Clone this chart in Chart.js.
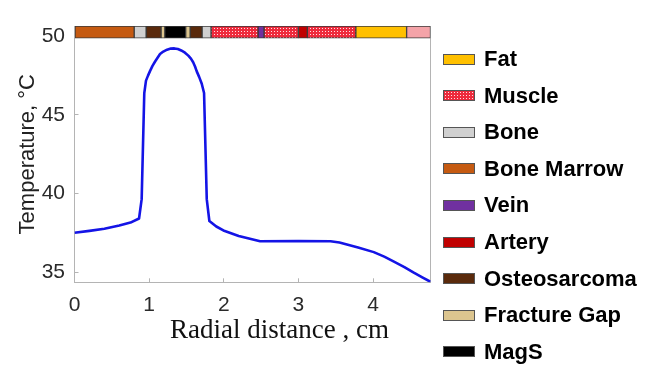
<!DOCTYPE html>
<html><head><meta charset="utf-8">
<script src="https://cdn.jsdelivr.net/npm/chart.js@4.4.1/dist/chart.umd.min.js"></script>
<style>
html,body{margin:0;padding:0;background:#fff;overflow:hidden;}
#wrap{position:relative;width:646px;height:365px;}
#c{position:absolute;left:0;top:0;}
#legend{position:absolute;left:443px;top:0;font-family:"Liberation Sans",Arial,sans-serif;font-weight:bold;font-size:22px;color:#000;}
.item{position:absolute;left:0;height:24px;display:flex;align-items:center;white-space:nowrap;}
.sw{width:30px;height:9px;border:1px solid #555;margin-right:9px;box-sizing:content-box;}
</style></head><body>
<div id="wrap"><canvas id="c" width="646" height="365"></canvas><div id="legend"></div></div>
<script>
// ---- data ----
const distance    = [0, 0.2, 0.4, 0.6, 0.75, 0.865, 0.90, 0.935, 0.958, 0.985, 1.01, 1.045, 1.08, 1.146, 1.19, 1.24, 1.29, 1.338, 1.385, 1.43, 1.48, 1.525, 1.56, 1.59, 1.615, 1.638, 1.67, 1.705, 1.736, 1.772, 1.807, 1.9, 1.995, 2.2, 2.487, 3.0, 3.43, 3.55, 3.65, 3.8, 4.01, 4.15, 4.28, 4.42, 4.54, 4.66, 4.77];
const temperature = [37.50, 37.62, 37.76, 37.96, 38.15, 38.41, 39.64, 46.39, 47.18, 47.50, 47.77, 48.12, 48.40, 48.87, 49.03, 49.15, 49.22, 49.23, 49.19, 49.10, 48.96, 48.77, 48.58, 48.35, 48.08, 47.77, 47.42, 46.98, 46.39, 39.64, 38.25, 37.90, 37.65, 37.30, 36.96, 36.97, 36.96, 36.88, 36.76, 36.57, 36.27, 35.98, 35.67, 35.32, 34.98, 34.66, 34.38];
const xTicks = [0, 1, 2, 3, 4];
const yTicks = [35, 40, 45, 50];

// tissue layers along the radial distance (cm): [start, end]
const fatSegs      = [[3.77, 4.45]];
const muscleSegs   = [[1.83, 2.46], [2.54, 3.0], [3.12, 3.77]];
const boneSegs     = [[0.80, 0.96], [1.71, 1.83]];
const marrowSegs   = [[0, 0.80]];
const veinSegs     = [[2.46, 2.54]];
const arterySegs   = [[3.0, 3.12]];
const osteoSegs    = [[0.96, 1.16], [1.55, 1.71]];
const fractureSegs = [[1.16, 1.21], [1.49, 1.55]];
const magsSegs     = [[1.21, 1.49]];
const skinSegs     = [[4.45, 4.77]];

const tissueNames = ['Fat', 'Muscle', 'Bone', 'Bone Marrow', 'Vein', 'Artery', 'Osteosarcoma', 'Fracture Gap', 'MagS'];
const tissueSegs  = [fatSegs, muscleSegs, boneSegs, marrowSegs, veinSegs, arterySegs, osteoSegs, fractureSegs, magsSegs];

// ---- styles ----
const pc = document.createElement('canvas'); pc.width = 3; pc.height = 3;
const pctx = pc.getContext('2d');
pctx.fillStyle = '#EE2A3C'; pctx.fillRect(0, 0, 3, 3);
pctx.fillStyle = '#FFE0E4'; pctx.fillRect(1, 1, 1, 1);
const musclePattern = pctx.createPattern(pc, 'repeat');
const tissueColors = ['#FFC000', musclePattern, '#D0D0D0', '#C55A11', '#7030A0', '#C00000', '#5A2A0C', '#DCC58F', '#000000'];
const swatchCss = ['#FFC000', 'url(' + pc.toDataURL() + ')', '#D0D0D0', '#C55A11', '#7030A0', '#C00000', '#5A2A0C', '#DCC58F', '#000000'];
const skinColor = '#F4A3A8';
const BAR_LEVEL = 50.27;
const AX = '#b4b4b4';

const datasets = [{
  type: 'line', label: 'Temperature',
  data: distance.map((x, i) => ({x: x, y: temperature[i]})),
  borderColor: '#1414E6', borderWidth: 2.6, pointRadius: 0,
  tension: 0, borderJoinStyle: 'round', fill: false, order: 0
}];
function barSet(label, segs, color) {
  return {type: 'bar', label: label, indexAxis: 'y', grouped: false,
    data: segs.map(s => ({x: s, y: BAR_LEVEL})),
    backgroundColor: color, borderColor: '#3a3a3a', borderWidth: 1, borderSkipped: false,
    barThickness: 12, order: 1};
}
tissueNames.forEach((n, i) => datasets.push(barSet(n, tissueSegs[i], tissueColors[i])));
datasets.push(barSet('Skin', skinSegs, skinColor));

const tickFont = {family: '"Liberation Sans", Arial, sans-serif', size: 21};

const chart = new Chart(document.getElementById('c'), {
  type: 'line',
  data: {datasets: datasets},
  options: {
    responsive: false, animation: false, events: [],
    layout: {padding: {left: 0, top: 8, right: 215.5, bottom: 0}},
    plugins: {legend: {display: false}, tooltip: {enabled: false}},
    scales: {
      x: {type: 'linear', position: 'bottom', min: 0, max: 4.77, offset: false, beginAtZero: false,
        afterBuildTicks: s => { s.ticks = xTicks.map(v => ({value: v})); },
        afterFit: s => { s.height = 82.7; },
        ticks: {font: tickFont, color: '#2a2a2a', padding: 14, maxRotation: 0},
        grid: {display: true, drawOnChartArea: false, drawTicks: true, tickLength: -4, color: AX, offset: false},
        border: {display: true, color: AX, width: 1},
        title: {display: true, text: '        Radial distance , cm', color: '#111',
          font: {family: '"Liberation Serif", "Times New Roman", serif', size: 27},
          padding: {top: 0, bottom: 17.8}}
      },
      y: {type: 'linear', position: 'left', min: 34.35, max: 50.65, offset: false, beginAtZero: false,
        afterBuildTicks: s => { s.ticks = yTicks.map(v => ({value: v})); },
        afterFit: s => { s.width = 74.5; },
        ticks: {font: tickFont, color: '#2a2a2a', padding: 13.5},
        grid: {display: true, drawOnChartArea: false, drawTicks: true, tickLength: -4, color: AX, offset: false},
        border: {display: true, color: AX, width: 1},
        title: {display: true, text: 'Temperature, °C', color: '#222',
          font: {family: '"Liberation Sans", Arial, sans-serif', size: 22},
          padding: {top: 15, bottom: 0}}
      },
      yR: {type: 'linear', position: 'right', min: 34.35, max: 50.65, display: true,
        afterFit: s => { s.width = 0; },
        ticks: {display: false},
        grid: {display: true, drawOnChartArea: false, drawTicks: false},
        border: {display: true, color: AX, width: 1}
      }
    }
  }
});

// HTML legend built from the tissue datasets
const leg = document.getElementById('legend');
const legendDs = chart.data.datasets.filter(d => tissueNames.includes(d.label));
legendDs.forEach((d, i) => {
  const it = document.createElement('div');
  it.className = 'item';
  it.style.top = (59 + i * 36.6 - 12) + 'px';
  const sw = document.createElement('div');
  sw.className = 'sw';
  sw.style.background = swatchCss[tissueNames.indexOf(d.label)];
  const tx = document.createElement('span');
  tx.textContent = d.label;
  it.appendChild(sw); it.appendChild(tx);
  leg.appendChild(it);
});
</script>
</body></html>
